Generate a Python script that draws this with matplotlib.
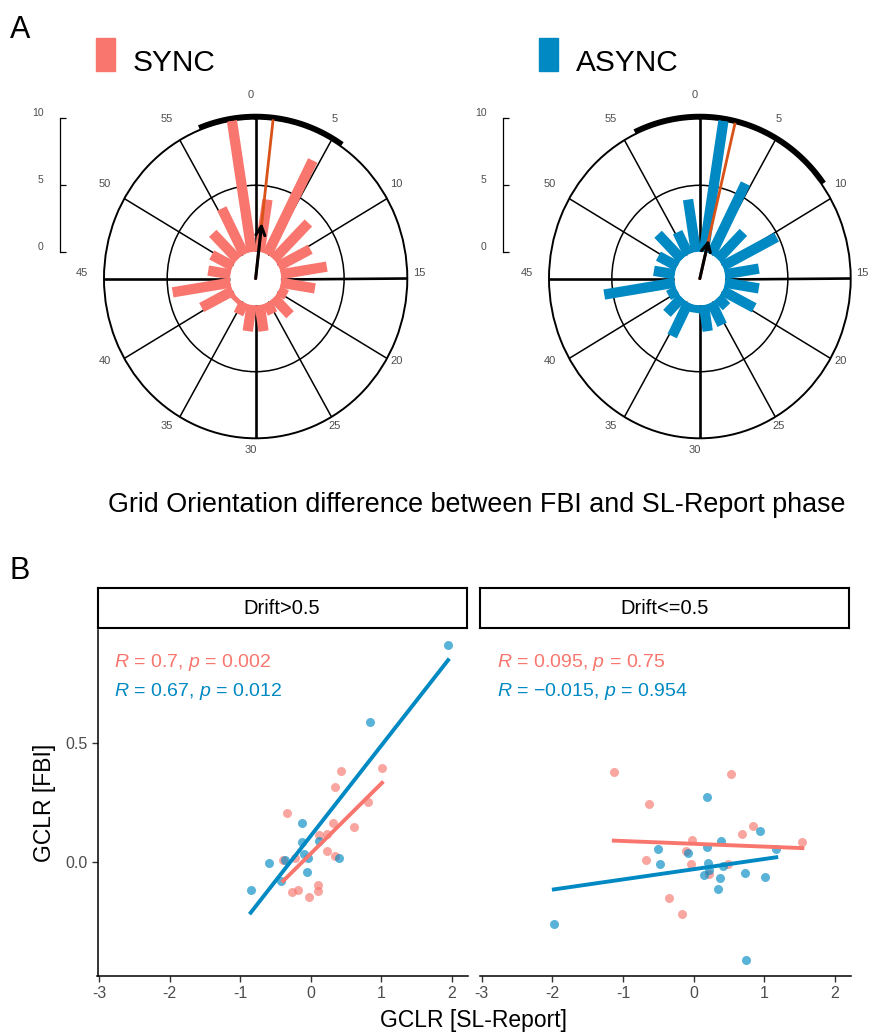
import numpy as np
import matplotlib.pyplot as plt
from matplotlib.patches import Rectangle
from matplotlib.transforms import ScaledTranslation

plt.rcParams['font.family'] = ['Liberation Sans', 'DejaVu Sans']
plt.rcParams['mathtext.fontset'] = 'custom'
plt.rcParams['mathtext.rm'] = 'Liberation Sans'
plt.rcParams['mathtext.it'] = 'Liberation Sans:italic'

RED = '#F8766D'
BLUE = '#0089C2'
ORANGE = '#D95319'
GREY = '#4D4D4D'

# ---------- panel A: rose plots (angles in 0-60 units) ----------
bin_centres = [1.5, 4.5, 7.5, 10.5, 13.5, 16.5, 19.5, 22.5, 25.5, 28.5,
               31.5, 34.5, 37.5, 40.5, 43.5, 46.5, 49.5, 52.5, 55.5, 58.5]
sync_counts = [4.0, 7.95, 3.9, 2.85, 3.7, 2.75, 0.75, 1.85, 0.95, 2.0,
               2.0, 1.0, 0.4, 2.8, 4.65, 1.8, 1.9, 2.8, 3.9, 10.0]
async_counts = [10.0, 6.0, 2.9, 4.85, 2.75, 2.75, 2.85, 1.0, 1.9, 2.0,
                0.6, 2.85, 1.7, 0.8, 5.7, 1.7, 1.7, 2.7, 1.9, 4.0]
sync_mean_dir, sync_res_len, sync_ci = 1.1, 2.2, [56.4, 5.7]
async_mean_dir, async_res_len, async_ci = 2.25, 1.0, [55.8, 9.0]
spokes = [0, 5, 10, 15, 20, 25, 30, 35, 40, 45, 50, 55]
scale_ticks = [0, 5, 10]

# ---------- panel B: scatter data ----------
hi_sync_x = [1.01, 0.43, 0.35, 0.81, -0.34, 0.31, 0.61, 0.12, 0.23, 0.23,
             -0.22, -0.39, 0.35, -0.27, -0.18, 0.10, 0.10, -0.03]
hi_sync_y = [0.397, 0.382, 0.316, 0.252, 0.208, 0.164, 0.148, 0.113, 0.120, 0.047,
             0.019, 0.010, 0.026, -0.125, -0.116, -0.097, -0.119, -0.144]
hi_async_x = [1.945, 0.84, -0.13, -0.12, -0.10, -0.04, 0.12, 0.40, -0.36, -0.59,
              -0.05, -0.42, -0.85]
hi_async_y = [0.912, 0.589, 0.166, 0.087, 0.035, 0.017, 0.088, 0.019, 0.010, -0.003,
              -0.041, -0.077, -0.116]
lo_sync_x = [-1.13, 0.53, -0.63, 0.84, 0.68, -0.03, 1.54, -0.11, -0.68, -0.04,
             0.48, 0.22, -0.35, -0.16]
lo_sync_y = [0.379, 0.372, 0.246, 0.151, 0.120, 0.094, 0.087, 0.047, 0.010, -0.008,
             -0.008, -0.049, -0.150, -0.219]
lo_async_x = [0.19, 0.94, 0.39, 0.19, 1.17, -0.51, -0.08, -0.48, 0.21, 0.42,
              0.22, 0.15, 0.73, 0.38, 1.01, 0.34, -1.98, 0.74]
lo_async_y = [0.273, 0.131, 0.088, 0.066, 0.057, 0.055, 0.038, -0.008, -0.003, -0.014,
              -0.032, -0.053, -0.046, -0.065, -0.062, -0.111, -0.259, -0.409]
facets = ['Drift>0.5', 'Drift<=0.5']
labels_hi = [r'$R$ = 0.7, $p$ = 0.002', r'$R$ = 0.67, $p$ = 0.012']
labels_lo = [r'$R$ = 0.095, $p$ = 0.75', r'$R$ = $-$0.015, $p$ = 0.954']
xticks = [-3, -2, -1, 0, 1, 2]
yticks = [0.0, 0.5]

W, H = 869, 1034
fig = plt.figure(figsize=(W / 100, H / 100), dpi=100)


def rad(u):
    return np.asarray(u, dtype=float) * 2 * np.pi / 60


def rose(left_px, right_px, spine_px, counts, colour, mdir, mlen, ci):
    ax = fig.add_axes([left_px / W, 1 - 438.3 / H, (right_px - left_px) / W, 319.6 / H],
                      projection='polar')
    ax.set_theta_zero_location('N')
    ax.set_theta_direction(-1)
    ax.set_ylim(0, 10)
    ax.set_rorigin(-2)
    ax.set_aspect('auto')
    ax.set_xticks(rad(spokes))
    ax.set_xticklabels([])
    ax.set_yticks([5])
    ax.set_yticklabels([])
    ax.grid(True, color='black', lw=1.1)
    for i, gl in enumerate(ax.xaxis.get_gridlines()):
        gl.set_linewidth(1.9 if i % 3 == 0 else 1.1)
    ax.spines['polar'].set_linewidth(1.4)
    # polar draw() re-enables the inner spine, so make it invisible by style
    ax.spines['inner'].set_linewidth(0)
    ax.spines['inner'].set_edgecolor('none')
    ax.vlines(rad(bin_centres), 0, counts, colors=colour, lw=7.4,
              capstyle='butt', zorder=3)
    ax.plot(rad([mdir, mdir]), [-2, 10], color=ORANGE, lw=2.0,
            clip_on=False, zorder=4)
    ax.annotate('', xy=(rad(mdir), mlen), xytext=(rad(mdir), -2),
                arrowprops=dict(arrowstyle='->', color='black', lw=2.2,
                                shrinkA=0, shrinkB=0, mutation_scale=16),
                zorder=5, annotation_clip=False)
    lo, hi = ci
    if lo > hi:
        lo -= 60
    arc = np.linspace(lo, hi, 120)
    ax.plot(rad(arc), np.full(arc.shape, 10.2), color='black', lw=3.3,
            clip_on=False, solid_capstyle='butt', zorder=5)
    off = ax.transData + ScaledTranslation(-5 / 100, 6 / 100, fig.dpi_scale_trans)
    for s in spokes:
        ax.text(rad(s), 11.35, str(s), transform=off, ha='center', va='center',
                fontsize=8, color=GREY)

    sax = fig.add_axes([spine_px / W, 1 - 252 / H, 0.002, (252 - 118.3) / H])
    sax.set_ylim(0, 10)
    sax.set_yticks(scale_ticks)
    sax.set_xticks([])
    for s in ['top', 'right', 'bottom']:
        sax.spines[s].set_visible(False)
    sax.spines['left'].set_linewidth(0.9)
    sax.patch.set_visible(False)
    sax.tick_params(axis='y', direction='in', length=4, width=0.9,
                    labelsize=7.5, labelcolor=GREY, pad=12)
    plt.setp(sax.get_yticklabels(), va='bottom')
    return ax


rose(104, 407.3, 60, sync_counts, RED, sync_mean_dir, sync_res_len, sync_ci)
rose(549, 850.7, 503.3, async_counts, BLUE, async_mean_dir, async_res_len, async_ci)

# legend squares and names
for x0, col, name in [(96, RED, 'SYNC'), (539, BLUE, 'ASYNC')]:
    fig.add_artist(Rectangle((x0 / W, 1 - 71 / H), 19 / W, 33 / H,
                             transform=fig.transFigure, color=col))
    fig.text((x0 + 37) / W, 1 - 71 / H, name, fontsize=21.5, va='baseline')

fig.text(10 / W, 1 - 38 / H, 'A', fontsize=22, va='baseline')
fig.text(10 / W, 1 - 579 / H, 'B', fontsize=22, va='baseline')
fig.text(476.5 / W, 1 - 505 / H,
         'Grid Orientation difference between FBI and SL-Report phase',
         fontsize=19.4, ha='center', va='center')

# ---------- panel B ----------
groups = [(hi_sync_x, hi_sync_y, hi_async_x, hi_async_y, labels_hi),
          (lo_sync_x, lo_sync_y, lo_async_x, lo_async_y, labels_lo)]
for k, (left_px, (sx, sy, ax_, ay, labs)) in enumerate(zip([97.5, 480.4], groups)):
    ax = fig.add_axes([left_px / W, 1 - 976 / H, 370.7 / W, 346 / H])
    for xs, ys, col in [(sx, sy, RED), (ax_, ay, BLUE)]:
        ax.scatter(xs, ys, s=42, color=col, alpha=0.65, linewidths=0, zorder=2)
    for xs, ys, col in [(sx, sy, RED), (ax_, ay, BLUE)]:
        xs = np.asarray(xs)
        slope, icpt = np.polyfit(xs, np.asarray(ys), 1)
        xr = np.array([xs.min(), xs.max()])
        ax.plot(xr, slope * xr + icpt, color=col, lw=2.8, zorder=3)
    ax.text(0.045, 0.905, labs[0], transform=ax.transAxes, color=RED,
            fontsize=14, va='center')
    ax.text(0.045, 0.823, labs[1], transform=ax.transAxes, color=BLUE,
            fontsize=14, va='center')
    ax.set_xlim(-3.02, 2.23)
    ax.set_ylim(-0.478, 0.976)
    ax.set_xticks(xticks)
    ax.set_xticklabels([str(t) for t in xticks])
    for s in ['top', 'right']:
        ax.spines[s].set_visible(False)
    ax.spines['bottom'].set_linewidth(1.1)
    ax.spines['left'].set_linewidth(1.1)
    ax.tick_params(length=4, width=1, color='#333333', labelsize=11.5,
                   labelcolor=GREY, pad=3)
    if k == 0:
        ax.set_yticks(yticks)
        ax.set_yticklabels(['0.0', '0.5'])
    else:
        ax.spines['left'].set_visible(False)
        ax.set_yticks([])

    st = fig.add_axes([left_px / W, 1 - 628 / H, 369 / W, 40 / H])
    st.set_xticks([])
    st.set_yticks([])
    for s in st.spines.values():
        s.set_linewidth(1.5)
    st.text(0.5, 0.5, facets[k], transform=st.transAxes, ha='center',
            va='center', fontsize=14.5)

fig.text(45 / W, 1 - 803 / H, 'GCLR [FBI]', rotation=90, ha='center',
         va='center', fontsize=16.5)
fig.text(474 / W, 1 - 1020 / H, 'GCLR [SL-Report]', ha='center',
         va='center', fontsize=16.5)

fig.savefig('out.png', dpi=100)
